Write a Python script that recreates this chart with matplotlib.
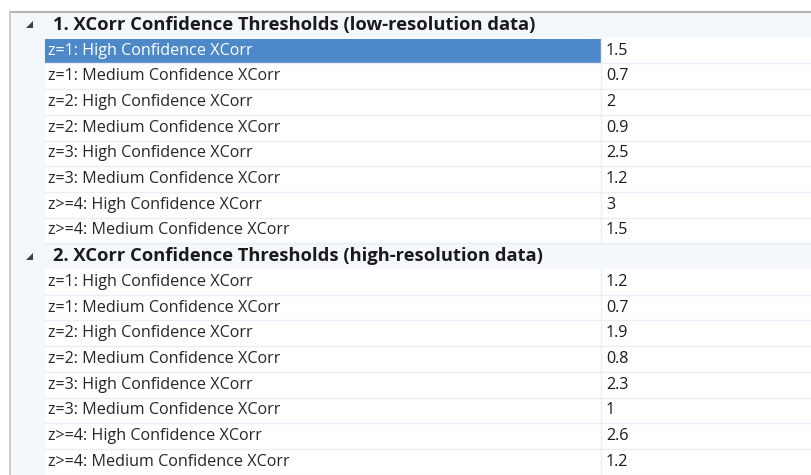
import matplotlib
matplotlib.use("Agg")
import matplotlib.pyplot as plt
from matplotlib.patches import Rectangle, Polygon

# contenu de la grille de propriétés
sections = [
    "1. XCorr Confidence Thresholds (low-resolution data)",
    "2. XCorr Confidence Thresholds (high-resolution data)",
]
labels = [
    "z=1: High Confidence XCorr",
    "z=1: Medium Confidence XCorr",
    "z=2: High Confidence XCorr",
    "z=2: Medium Confidence XCorr",
    "z=3: High Confidence XCorr",
    "z=3: Medium Confidence XCorr",
    "z>=4: High Confidence XCorr",
    "z>=4: Medium Confidence XCorr",
]
low_res = ["1.5", "0.7", "2", "0.9", "2.5", "1.2", "3", "1.5"]
high_res = ["1.2", "0.7", "1.9", "0.8", "2.3", "1", "2.6", "1.2"]

W, H = 812, 475
top, left = 12, 11
margin_r = 45
value_x = 601
row_h = 25.7
sel_blue = "#4d88c9"
pale = "#f4f7fb"
sep = "#e9eef6"
txt = "#262626"
font = "Open Sans"

fig = plt.figure(figsize=(W / 100, H / 100), dpi=100)
ax = fig.add_axes([0, 0, 1, 1])
ax.set_xlim(0, W)
ax.set_ylim(H, 0)
ax.axis("off")

# marge gauche
ax.add_patch(Rectangle((left, top), margin_r - left, H - top, color=pale, lw=0))

rows = []
for s, vals in zip(sections, [low_res, high_res]):
    rows.append(("h", s, None))
    rows += [("i", l, v) for l, v in zip(labels, vals)]

for i, (kind, lab, val) in enumerate(rows):
    y0 = top + i * row_h
    yc = y0 + row_h / 2
    if kind == "h":
        ax.add_patch(Rectangle((left, y0), W - left, row_h, color=pale, lw=0))
        tri = Polygon([(33, yc - 3.5), (33, yc + 3.5), (26, yc + 3.5)],
                      closed=True, color="#404040", lw=0)
        ax.add_patch(tri)
        ax.text(53, yc, lab, fontsize=13.2, fontweight="bold", family=font,
                color="#1a1a1a", va="center", ha="left")
    else:
        col = txt
        if i == 1:
            ax.add_patch(Rectangle((margin_r, y0 + 1), value_x - margin_r, row_h - 1,
                                   color=sel_blue, lw=0))
            col = "white"
        ax.text(48, yc, lab, fontsize=11.6, family=font, color=col,
                va="center", ha="left")
        ax.text(606, yc, val, fontsize=11.6, family=font, color="#1a1a1a",
                va="center", ha="left")
        ax.plot([margin_r, W], [y0 + row_h, y0 + row_h], color=sep, lw=1)
        ax.plot([value_x, value_x], [y0, y0 + row_h], color=sep, lw=1)

# bordure
ax.plot([left - 0.5, W], [top - 0.5, top - 0.5], color="#a6a6a6", lw=1.2)
ax.plot([left - 0.5, left - 0.5], [top - 0.5, H], color="#c4c4c4", lw=1.2)

fig.savefig("out.png", dpi=100)
